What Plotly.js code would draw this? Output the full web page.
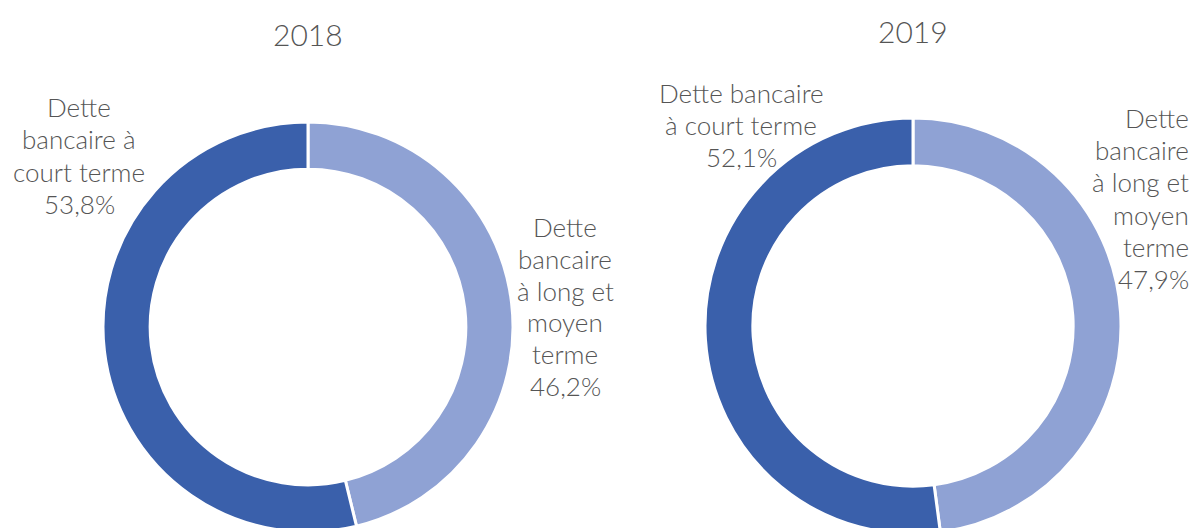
<!DOCTYPE html>
<html><head><meta charset="utf-8">
<script src="https://cdn.plot.ly/plotly-3.0.1.min.js"></script>
<style>html,body{margin:0;padding:0;overflow:hidden;background:#fff}#c{width:1195px;height:545px}</style>
</head><body><div id="c"></div>
<script>
const years = ["2018", "2019"];
const categories = ["Dette bancaire à long et moyen terme", "Dette bancaire à court terme"];
const values2018 = [46.2, 53.8];
const values2019 = [47.9, 52.1];
const labels2018Short = ["Dette", "bancaire à", "court terme", "53,8%"];
const labels2018Long = ["Dette", "bancaire", "à long et", "moyen", "terme", "46,2%"];
const labels2019Short = ["Dette bancaire", "à court terme", "52,1%"];
const labels2019Long = ["Dette", "bancaire", "à long et", "moyen", "terme", "47,9%"];
const colors = ["#8FA2D4", "#3A60AB"];

const W = 1195, H = 545;
const px = x => x / W, py = y => 1 - y / H;
const FONT = "Lato, 'Open Sans', sans-serif";
const GREY = "#555555";

function pie(vals, cx, cy, r, name) {
  return {
    type: "pie", values: vals, labels: categories, name: name,
    hole: 0.77, sort: false, direction: "clockwise", rotation: 0,
    textinfo: "none", hoverinfo: "label+percent",
    marker: {colors: colors, line: {color: "#fff", width: 3}},
    domain: {x: [px(cx - r), px(cx + r)], y: [py(cy + r), py(cy - r)]},
    showlegend: false
  };
}

function lines(arr, x, y0, step, anchor) {
  return arr.map((t, i) => ({
    text: t, xref: "paper", yref: "paper", x: px(x), y: py(y0 + i * step),
    xanchor: anchor, yanchor: "middle", showarrow: false,
    font: {family: FONT, size: 26, color: GREY, weight: 300}
  }));
}

const ann = [].concat(
  lines(labels2018Short, 79, 107, 32.3, "center"),
  lines(labels2018Long, 565, 227, 31.8, "center"),
  lines(labels2019Short, 741, 93, 32, "center"),
  lines(labels2019Long, 1191, 118, 32.2, "right"),
  [{text: years[0], xref: "paper", yref: "paper", x: px(308), y: py(34), xanchor: "center", yanchor: "middle", showarrow: false, font: {family: FONT, size: 30, color: GREY, weight: 300}},
   {text: years[1], xref: "paper", yref: "paper", x: px(913), y: py(31), xanchor: "center", yanchor: "middle", showarrow: false, font: {family: FONT, size: 30, color: GREY, weight: 300}}]
);

Plotly.newPlot("c", [pie(values2018, 308, 327, 205, years[0]), pie(values2019, 913, 326, 208, years[1])], {
  width: W, height: H, margin: {l: 0, r: 0, t: 0, b: 0},
  paper_bgcolor: "#fff", plot_bgcolor: "#fff",
  annotations: ann
}, {displayModeBar: false, staticPlot: true});
</script></body></html>
